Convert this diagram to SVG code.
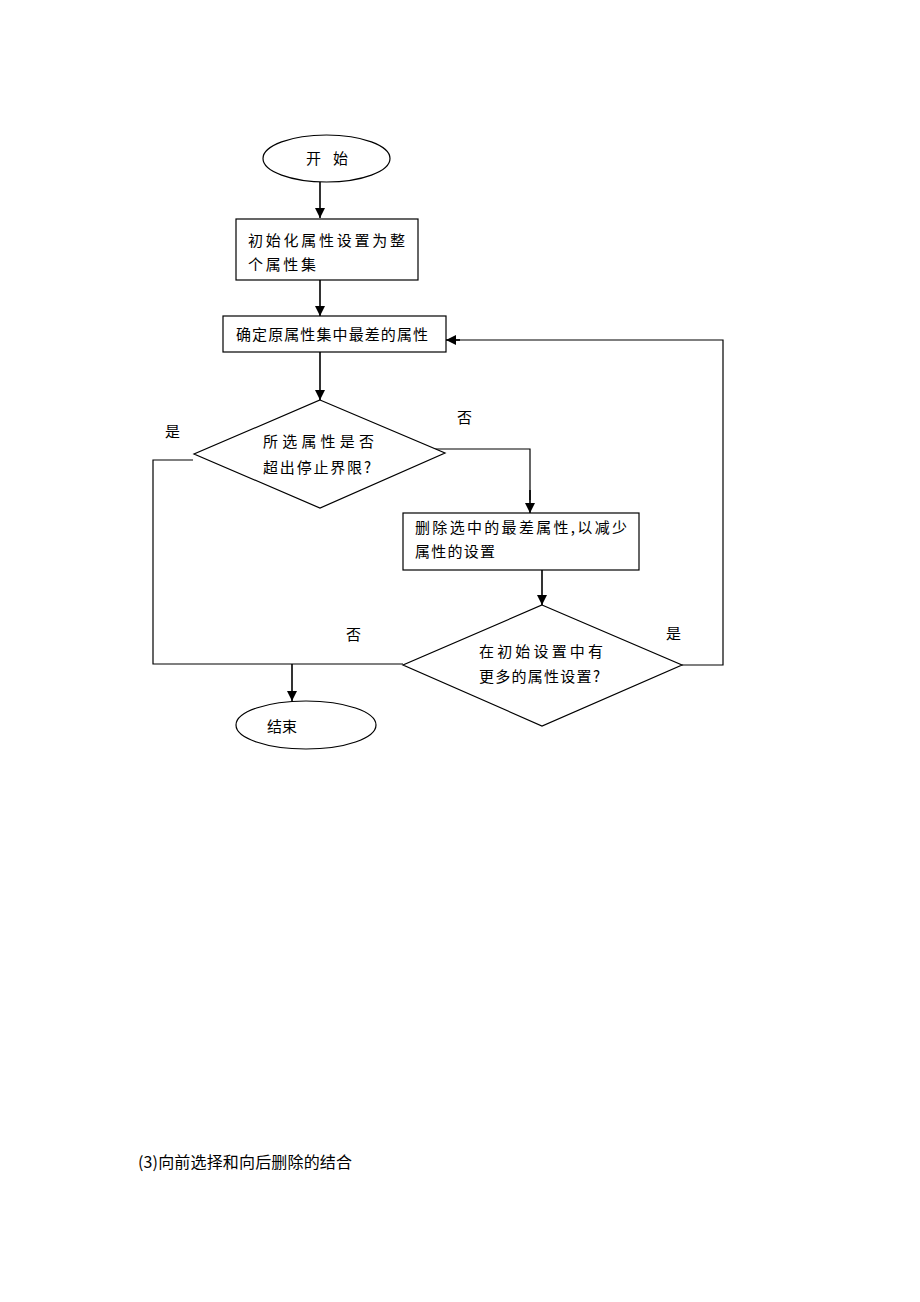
<svg xmlns="http://www.w3.org/2000/svg" width="920" height="1302" viewBox="0 0 920 1302">
<style>
.s{fill:#fff;stroke:#000;stroke-width:1.2}
.t{font-family:"Noto Sans CJK SC","Noto Sans CJK JP",sans-serif;font-size:15px;fill:#000}
.c{fill:none;stroke:#000;stroke-width:1.2}
.a{fill:none;stroke:#000;stroke-width:1.6;marker-end:url(#ah)}
</style>
<defs>
<marker id="ah" viewBox="0 0 10 10" refX="10" refY="5" markerWidth="10" markerHeight="10" markerUnits="userSpaceOnUse" orient="auto">
<path d="M0,0 L10,5 L0,10 z" fill="#000"/>
</marker>
</defs>
<rect width="920" height="1302" fill="#fff"/>
<g id="connectors">
<line class="a" x1="320" y1="182" x2="320" y2="218"/>
<line class="a" x1="320" y1="280" x2="320" y2="316"/>
<line class="a" x1="320" y1="352" x2="320" y2="400"/>
<polyline class="c" points="433,449 530,449 530,500"/>
<line class="a" x1="530" y1="490" x2="530" y2="513"/>
<line class="a" x1="542" y1="570" x2="542" y2="605"/>
<polyline class="c" points="682,665 723,665 723,340 456,340"/>
<line class="a" x1="460" y1="340" x2="446" y2="340"/>
<polyline class="c" points="193,460 153,460 153,664 403,664"/>
<line class="a" x1="292" y1="664" x2="292" y2="701"/>
</g>
<g id="start">
<ellipse class="s" cx="326.5" cy="158.5" rx="63.5" ry="23.5"/>
<text class="t" y="164"><tspan x="306">开</tspan><tspan x="333">始</tspan></text>
</g>
<g id="init">
<rect class="s" x="236" y="219" width="182" height="61"/>
<text class="t" x="248" y="246" textLength="157" lengthAdjust="spacing">初始化属性设置为整</text>
<text class="t" x="248" y="270" textLength="68" lengthAdjust="spacing">个属性集</text>
</g>
<g id="worst">
<rect class="s" x="223" y="316" width="223" height="36"/>
<text class="t" x="236" y="340" textLength="192" lengthAdjust="spacing">确定原属性集中最差的属性</text>
</g>
<g id="decision1">
<polygon class="s" points="320,400 445,453 320,508 194,454"/>
<text class="t" x="263" y="447" textLength="111" lengthAdjust="spacing">所选属性是否</text>
<text class="t" x="263" y="473" textLength="108" lengthAdjust="spacing">超出停止界限?</text>
</g>
<g id="delete">
<rect class="s" x="403" y="513" width="236" height="57"/>
<text class="t" x="415" y="533" textLength="212" lengthAdjust="spacing">删除选中的最差属性,以减少</text>
<text class="t" x="415" y="557" textLength="80" lengthAdjust="spacing">属性的设置</text>
</g>
<g id="decision2">
<polygon class="s" points="542,605 682,665 542,726 403,665"/>
<text class="t" x="479" y="657" textLength="124" lengthAdjust="spacing">在初始设置中有</text>
<text class="t" x="479" y="682" textLength="121" lengthAdjust="spacing">更多的属性设置?</text>
</g>
<g id="end">
<ellipse class="s" cx="306" cy="725" rx="70" ry="24"/>
<text class="t" x="267" y="732">结束</text>
</g>
<g id="labels">
<text class="t" x="165" y="437">是</text>
<text class="t" x="457" y="423">否</text>
<text class="t" x="666" y="639">是</text>
<text class="t" x="346" y="640">否</text>
</g>
<text class="t" x="138" y="1168" style="font-size:16px" textLength="214" lengthAdjust="spacing">(3)向前选择和向后删除的结合</text>
</svg>
